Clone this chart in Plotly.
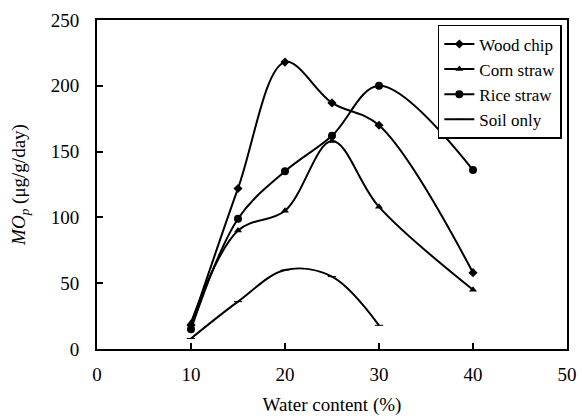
import plotly.graph_objects as go

water = [10, 15, 20, 25, 30, 40]
wood_chip = [18, 122, 218, 187, 170, 58]
corn_straw = [20, 90, 105, 158, 108, 45]
rice_straw = [15, 99, 135, 162, 200, 136]
soil_water = [10, 15, 20, 25, 30]
soil_only = [8, 36, 60, 55, 18]

FONT = "Liberation Serif"

fig = go.Figure()
series = [
    ("Wood chip", water, wood_chip, "diamond", 7),
    ("Corn straw", water, corn_straw, "triangle-up", 7),
    ("Rice straw", water, rice_straw, "circle", 8),
]
for name, xs, ys, sym, sz in series:
    fig.add_trace(go.Scatter(
        x=xs, y=ys, name=name, mode="lines+markers",
        line=dict(color="black", width=2, shape="spline", smoothing=1),
        marker=dict(symbol=sym, size=sz, color="black"),
    ))
fig.add_trace(go.Scatter(
    x=soil_water, y=soil_only, name="Soil only", mode="lines+markers",
    line=dict(color="black", width=2, shape="spline", smoothing=1),
    marker=dict(symbol="line-ew", size=6, color="black", line=dict(color="black", width=1)),
))

fig.update_layout(
    width=582, height=416,
    margin=dict(l=97, r=15, t=20, b=67, autoexpand=False),
    paper_bgcolor="white", plot_bgcolor="white",
    font=dict(family=FONT, size=19, color="black"),
    showlegend=True,
    legend=dict(
        x=0.989, y=0.985, xanchor="right", yanchor="top",
        bordercolor="black", borderwidth=1.5, bgcolor="white",
        font=dict(family=FONT, size=17, color="black"),
        itemwidth=30, tracegroupgap=0,
    ),
)
fig.update_xaxes(
    range=[0, 50], tickvals=[0, 10, 20, 30, 40, 50],
    showgrid=False, zeroline=False, automargin=False,
    showline=True, linecolor="black", linewidth=2, mirror=True,
    ticks="inside", ticklen=6, tickwidth=1.5, tickcolor="black",
    ticklabelstandoff=7,
    tickfont=dict(family=FONT, size=19),
    title=dict(text="Water content (%)", standoff=14, font=dict(family=FONT, size=19)),
)
fig.update_yaxes(
    range=[0, 250], tickvals=[0, 50, 100, 150, 200, 250],
    showgrid=False, zeroline=False, automargin=False,
    showline=True, linecolor="black", linewidth=2, mirror=True,
    ticks="inside", ticklen=6, tickwidth=1.5, tickcolor="black",
    ticklabelstandoff=12,
    tickfont=dict(family=FONT, size=19),
    title=dict(text="<i>MO</i><sub><i>p</i></sub> (μg/g/day)", standoff=20, font=dict(family=FONT, size=19)),
)

fig.write_html("out.html")
